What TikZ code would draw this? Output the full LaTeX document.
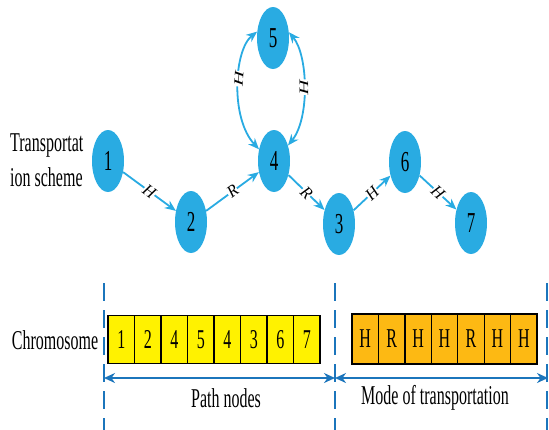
\documentclass[tikz,border=0pt]{standalone}
\usepackage{fontspec}
\setmainfont{Liberation Serif}
\usepackage{graphicx}
\usetikzlibrary{shapes.geometric,arrows.meta}
\definecolor{nodeblue}{RGB}{41,171,226}
\definecolor{darkblue}{RGB}{27,117,188}
\definecolor{cellyellow}{RGB}{255,242,0}
\definecolor{cellorange}{RGB}{253,185,19}
\newcommand\tallt[1]{\scalebox{1}[1.7]{#1}}
\newcommand\diagt[1]{\scalebox{1.25}[1.3]{#1}}
\newcommand\widet[1]{\scalebox{1.6}[1]{#1}}
\begin{document}
\begin{tikzpicture}[x=1pt,y=-1pt,
  vnode/.style={ellipse,fill=nodeblue,minimum width=32pt,minimum height=62pt,inner sep=0pt,font=\fontsize{17}{17}\selectfont},
  gedge/.style={draw=nodeblue,line width=1.8pt,-{Stealth[length=11pt,width=9pt]}},
  gboth/.style={draw=nodeblue,line width=1.8pt,{Stealth[length=11pt,width=9pt]}-{Stealth[length=11pt,width=9pt]}},
  elabel/.style={font=\itshape\fontsize{13}{13}\selectfont,sloped,fill=white,inner sep=0.3pt},
  ycell/.style={draw=black,line width=1.3pt,fill=cellyellow,minimum width=26.5pt,minimum height=48pt,inner sep=0pt,font=\fontsize{16}{16}\selectfont},
  ocell/.style={draw=black,line width=1.3pt,fill=cellorange,minimum width=26.43pt,minimum height=50pt,inner sep=0pt,font=\fontsize{16}{16}\selectfont},
  divline/.style={draw=darkblue,line width=2pt,dash pattern=on 18pt off 9pt},
  spanarrow/.style={draw=darkblue,line width=2pt,{Stealth[length=11pt,width=10pt]}-{Stealth[length=11pt,width=10pt]}},
  plain/.style={font=\fontsize{16}{21}\selectfont,inner sep=0pt}
]
\useasboundingbox (0,0) rectangle (549,429);

% graph nodes
\node[vnode] (n1) at (108,161) {\tallt{1}};
\node[vnode] (n2) at (191,222) {\tallt{2}};
\node[vnode] (n4) at (274,161) {\tallt{4}};
\node[vnode] (n5) at (273,38) {\tallt{5}};
\node[vnode] (n3) at (339,224) {\tallt{3}};
\node[vnode] (n6) at (405,162) {\tallt{6}};
\node[vnode] (n7) at (471,223) {\tallt{7}};

\node[plain,anchor=west] (ts) at (10,162) {\tallt{\begin{tabular}{@{}l@{}}Transportat\\ion scheme\end{tabular}}};

% graph edges
\draw[gedge] (n1) -- node[elabel] {\diagt{H}} (n2);
\draw[gedge] (n2) -- node[elabel] {\diagt{R}} (n4);
\draw[gedge] (n4) -- node[elabel] {\diagt{R}} (n3);
\draw[gedge] (n3) -- node[elabel] {\diagt{H}} (n6);
\draw[gedge] (n6) -- node[elabel] {\diagt{H}} (n7);
\draw[gboth] (n5.158) .. controls (234,50) and (230,118) .. (n4.142) node[elabel,pos=0.45] {\widet{H}};
\draw[gboth] (n5.20) .. controls (308,55) and (310,118) .. (n4.48) node[elabel,pos=0.5] {\widet{H}};

% chromosome
\node[plain] (chr) at (55,340) {\tallt{Chromosome}};
\foreach \v [count=\i] in {1,2,4,5,4,3,6,7} {
  \node[ycell] (y\i) at ({108+26.5*(\i-0.5)},339.5) {\tallt{\v}};
}
\foreach \v [count=\i] in {H,R,H,H,R,H,H} {
  \node[ocell] (o\i) at ({352+26.43*(\i-0.5)},339) {\tallt{\v}};
}

% dividers
\coordinate (d1t) at (104,283); \coordinate (d1b) at (104,432);
\coordinate (d2t) at (335,283); \coordinate (d2b) at (335,432);
\coordinate (d3t) at (547,283); \coordinate (d3b) at (547,432);
\draw[divline] (d1t) -- (d1b);
\draw[divline] (d2t) -- (d2b);
\draw[divline] (d3t) -- (d3b);

\coordinate (m1) at (104,378);
\coordinate (m2) at (335,378);
\coordinate (m3) at (548,378);
\draw[spanarrow] (m1) -- (m2);
\draw[spanarrow] (m2) -- (m3);

\node[plain] (pn) at (226,398) {\tallt{Path nodes}};
\node[plain] (mt) at (435,398) {\tallt{Mode of transportation}};
\end{tikzpicture}
\end{document}
